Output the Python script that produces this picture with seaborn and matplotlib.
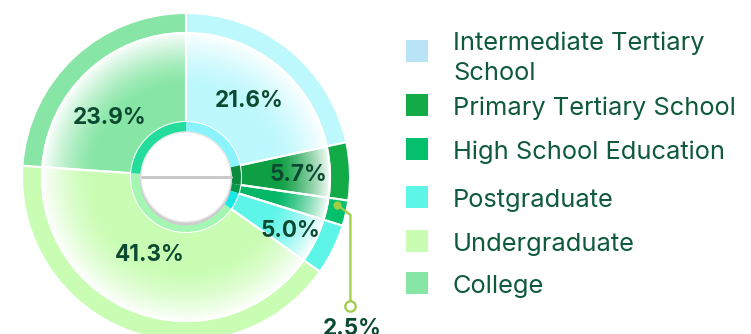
import textwrap

import numpy as np
import matplotlib
matplotlib.use("Agg")
import matplotlib.pyplot as plt
from matplotlib.colors import to_rgb
from matplotlib.patches import Circle, Rectangle
import seaborn as sns

# ---- data -------------------------------------------------------------
categories = [
    "Intermediate Tertiary School",
    "Primary Tertiary School",
    "High School Education",
    "Postgraduate",
    "Undergraduate",
    "College",
]
shares = [21.6, 5.7, 2.5, 5.0, 41.3, 23.9]

# ---- styling ----------------------------------------------------------
legend_colors = ["#b8e4f6", "#12ab48", "#04bf6c", "#5ef5e9", "#c9fdb3", "#87e6a5"]
ring_colors = ["#bdf8fd", "#12ab48", "#04bf6c", "#5ef5e9", "#c9fdb3", "#87e6a5"]
body_colors = ["#bdf8fd", "#0f9f45", "#04b868", "#5ef5e9", "#c9fdb3", "#87e6a5"]
hub_colors = ["#8af3fb", "#0a8a3c", "#079a4c", "#18e8e6", "#a3f7b3", "#24dc9c"]
label_color = "#0b4a31"
legend_text_color = "#0e5a3b"
leader_color = "#9fcd45"

sns.set_theme(style="white")
plt.rcParams["font.family"] = ["Inter", "DejaVu Sans"]

W, H = 751, 334
fig = plt.figure(figsize=(W / 100, H / 100), dpi=100)
ax = fig.add_axes([0, 0, 1, 1])

cx, cy = 186, H - 177          # donut centre (pixel units, y up)
R_out, R_body, R_hub, R_pill = 164, 144, 55, 46

pie_kw = dict(center=(cx, cy), startangle=90, counterclock=False)

# outer ring
ax.pie(shares, radius=R_out, colors=ring_colors,
       wedgeprops=dict(width=R_out - R_body, edgecolor="white", linewidth=1.5),
       **pie_kw)

# main body: radial fade to white towards the outer edge
body, _ = ax.pie(shares, radius=R_body, colors=["none"] * len(shares),
                 wedgeprops=dict(width=R_body - R_hub, edgecolor="white", linewidth=1.5),
                 **pie_kw)
n = 500
xs = np.linspace(cx - R_body, cx + R_body, n)
ys = np.linspace(cy - R_body, cy + R_body, n)
gx, gy = np.meshgrid(xs, ys)
rr = np.hypot(gx - cx, gy - cy)
fade = np.clip((rr - 92) / (R_body - 92), 0, 1) ** 1.4 * 0.95
for wedge, col in zip(body, body_colors):
    base = np.array(to_rgb(col))
    img = base[None, None, :] * (1 - fade[..., None]) + fade[..., None]
    im = ax.imshow(img, extent=(xs[0], xs[-1], ys[0], ys[-1]), origin="lower",
                   interpolation="bilinear", zorder=0.5)
    im.set_clip_path(wedge)
for wedge in body:
    wedge.set_zorder(1)

# coloured hub ring
ax.pie(shares, radius=R_hub, colors=hub_colors,
       wedgeprops=dict(width=R_hub - R_pill + 1, edgecolor="none", linewidth=0),
       **pie_kw)

# centre "pill"
ax.add_patch(Circle((cx, cy - 2.5), R_pill, facecolor="#cdcdcd", edgecolor="none", zorder=3))
ax.add_patch(Circle((cx, cy), R_pill - 1, facecolor="white", edgecolor="#e8e8e8",
                    linewidth=1.0, zorder=4))
ax.plot([cx - R_pill + 1.5, cx + R_pill - 1.5], [cy, cy], color="#c9c9c9", lw=2.2,
        solid_capstyle="round", zorder=5)
ax.plot([cx - R_pill + 3, cx + R_pill - 3], [cy - 1.6, cy - 1.6], color="white",
        lw=0.8, zorder=5)

# percentage labels
total = sum(shares)
edges = 90 - 360 * np.cumsum([0] + shares) / total
mids = (edges[:-1] + edges[1:]) / 2
label_r = [100, 112, None, 116, 84, 98]
label_dtheta = [0, 0, 0, 0, -6, 8]
cap_half = 8.3
for i, (v, m) in enumerate(zip(shares, mids)):
    if label_r[i] is None:
        continue
    a = np.deg2rad(m + label_dtheta[i])
    x = cx + label_r[i] * np.cos(a)
    y = cy + label_r[i] * np.sin(a)
    ax.text(x, y - cap_half, f"{v:.1f}%", ha="center", va="baseline",
            fontsize=16.2, fontweight="bold", color=label_color, zorder=6)

# leader line for the thin slice
k = 2
a = np.deg2rad(mids[k] + 2.3)
px, py = cx + 154 * np.cos(a), cy + 154 * np.sin(a)
ex, ey_mid, ey_end = px + 13, py - 10, H - 306
ax.plot([px, ex, ex], [py, ey_mid, ey_end], color=leader_color, lw=1.6, zorder=6)
ax.plot([px], [py], marker="o", ms=6, color=leader_color, mec="none", zorder=7)
ax.plot([ex], [ey_end], marker="o", ms=7.5, mfc="white", mec=leader_color, mew=1.6, zorder=7)
ax.text(ex + 2, H - 327 - cap_half, f"{shares[k]:.1f}%", ha="center", va="baseline",
        fontsize=16.2, fontweight="bold", color=label_color, zorder=6)

# legend
swatch_y = [51, 105, 149, 197, 241, 283]
for name, col, sy in zip(categories, legend_colors, swatch_y):
    yc = H - sy
    ax.add_patch(Rectangle((406, yc - 11), 22, 22, facecolor=col, edgecolor="none"))
    text = textwrap.fill(name, 23)
    nl = text.count("\n")
    ax.text(453, yc - 9.5 - 19 * nl, text, ha="left", va="baseline",
            fontsize=18.3, color=legend_text_color, linespacing=1.36)

ax.set_xlim(0, W)
ax.set_ylim(0, H)
ax.set_aspect("auto")
ax.axis("off")
fig.savefig("out.png", dpi=100)
